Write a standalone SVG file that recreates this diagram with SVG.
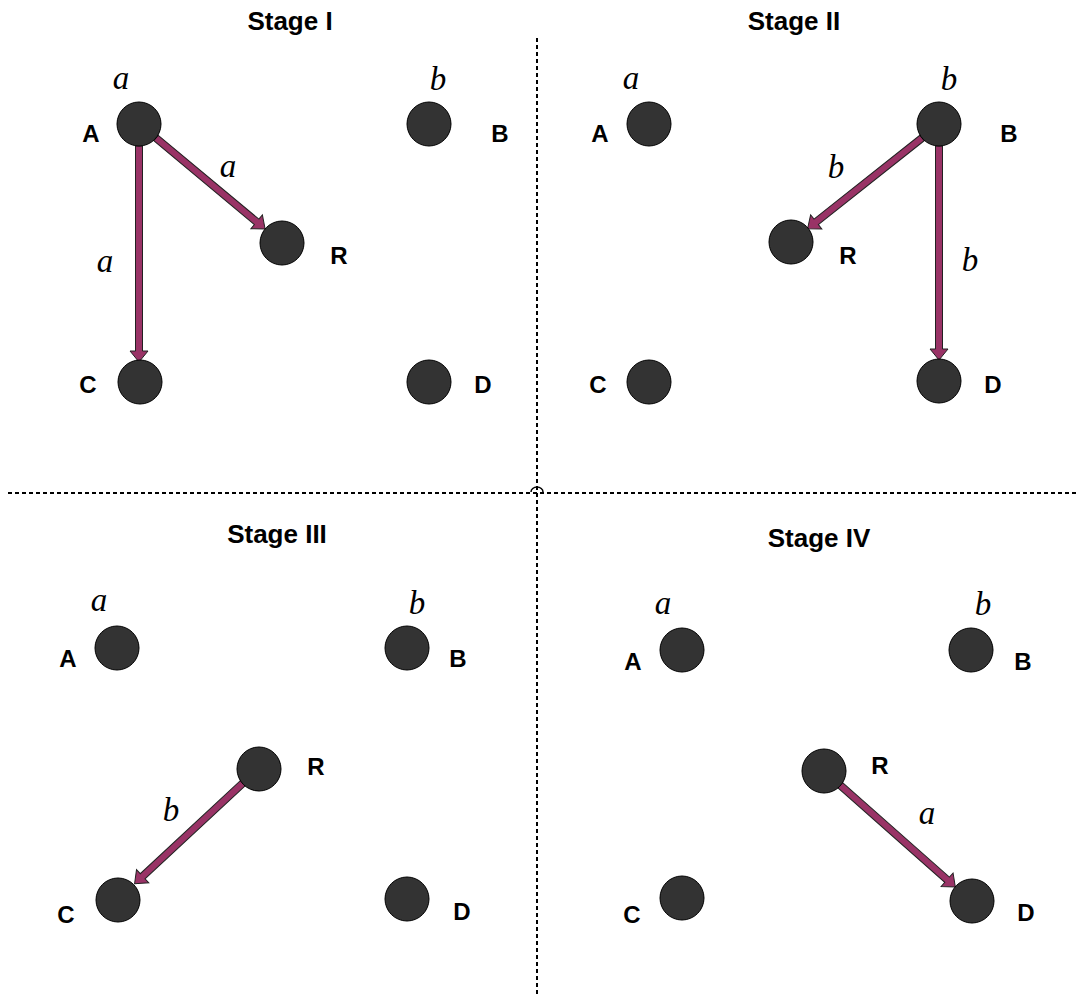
<svg xmlns="http://www.w3.org/2000/svg" width="1076" height="994" viewBox="0 0 1076 994">
<style>
.node{fill:#333333;stroke:#000;stroke-width:1}
.title{font-family:"Liberation Sans",Arial,sans-serif;font-weight:bold;font-size:26px;text-anchor:middle;fill:#000}
.lbl{font-family:"Liberation Sans",Arial,sans-serif;font-weight:bold;font-size:24px;text-anchor:middle;fill:#000}
.it{font-family:"Liberation Serif","Times New Roman",serif;font-style:italic;font-size:33px;text-anchor:middle;fill:#000}
.arr{fill:#993366;stroke:#222;stroke-width:1}
.div{fill:none;stroke:#000;stroke-width:2;stroke-dasharray:4 3}
</style>
<rect width="1076" height="994" fill="#fff"/>
<g id="dividers">
<line class="div" x1="537" y1="38" x2="537" y2="994"/>
<line class="div" x1="8" y1="493" x2="1076" y2="493"/>
<path d="M531,492 A6,5 0 0 1 543,492" fill="none" stroke="#000" stroke-width="1.5"/>
</g>
<g id="titles">
<text class="title" x="290" y="30">Stage I</text>
<text class="title" x="794" y="30">Stage II</text>
<text class="title" x="277" y="543">Stage III</text>
<text class="title" x="819" y="547">Stage IV</text>
</g>
<g id="connectors">
<g transform="translate(139,146) rotate(90)"><path class="arr" d="M0,-3.5 L205,-3.5 L205,-9 L216,0 L205,9 L205,3.5 L0,3.5 Z"/></g>
<g transform="translate(156,138) rotate(39.8)"><path class="arr" d="M0,-3.5 L131,-3.5 L131,-9 L142,0 L131,9 L131,3.5 L0,3.5 Z"/></g>
<g transform="translate(939,146) rotate(90)"><path class="arr" d="M0,-3.5 L203,-3.5 L203,-9 L214,0 L203,9 L203,3.5 L0,3.5 Z"/></g>
<g transform="translate(922,138) rotate(141.6)"><path class="arr" d="M0,-3.5 L135,-3.5 L135,-9 L146,0 L135,9 L135,3.5 L0,3.5 Z"/></g>
<g transform="translate(243,783) rotate(137.1)"><path class="arr" d="M0,-3.5 L137,-3.5 L137,-9 L148,0 L137,9 L137,3.5 L0,3.5 Z"/></g>
<g transform="translate(840,785) rotate(41.5)"><path class="arr" d="M0,-3.5 L143,-3.5 L143,-9 L154,0 L143,9 L143,3.5 L0,3.5 Z"/></g>
</g>
<g id="s1">
<g id="s1-A"><circle class="node" cx="139" cy="124" r="22"/><text class="lbl" x="91" y="142">A</text><text class="it" x="121" y="89">a</text></g>
<g id="s1-B"><circle class="node" cx="429" cy="124" r="22"/><text class="lbl" x="500" y="142">B</text><text class="it" x="438" y="90">b</text></g>
<g id="s1-R"><circle class="node" cx="282" cy="243" r="22"/><text class="lbl" x="339" y="264">R</text></g>
<g id="s1-C"><circle class="node" cx="140" cy="382" r="22"/><text class="lbl" x="88" y="393">C</text></g>
<g id="s1-D"><circle class="node" cx="429" cy="382" r="22"/><text class="lbl" x="483" y="393">D</text></g>
<text class="it" x="228" y="177">a</text>
<text class="it" x="105" y="272">a</text>
</g>
<g id="s2">
<g id="s2-A"><circle class="node" cx="649" cy="124" r="22"/><text class="lbl" x="600" y="142">A</text><text class="it" x="631" y="89">a</text></g>
<g id="s2-B"><circle class="node" cx="939" cy="124" r="22"/><text class="lbl" x="1009" y="142">B</text><text class="it" x="949" y="90">b</text></g>
<g id="s2-R"><circle class="node" cx="791" cy="242" r="22"/><text class="lbl" x="848" y="264">R</text></g>
<g id="s2-C"><circle class="node" cx="649" cy="382" r="22"/><text class="lbl" x="598" y="393">C</text></g>
<g id="s2-D"><circle class="node" cx="939" cy="381" r="22"/><text class="lbl" x="993" y="393">D</text></g>
<text class="it" x="836" y="178">b</text>
<text class="it" x="970" y="271">b</text>
</g>
<g id="s3">
<g id="s3-A"><circle class="node" cx="117" cy="648" r="22"/><text class="lbl" x="68" y="667">A</text><text class="it" x="99" y="611">a</text></g>
<g id="s3-B"><circle class="node" cx="407" cy="648" r="22"/><text class="lbl" x="458" y="667">B</text><text class="it" x="417" y="614">b</text></g>
<g id="s3-R"><circle class="node" cx="259" cy="769" r="22"/><text class="lbl" x="316" y="775">R</text></g>
<g id="s3-C"><circle class="node" cx="118" cy="900" r="22"/><text class="lbl" x="66" y="923">C</text></g>
<g id="s3-D"><circle class="node" cx="407" cy="899" r="22"/><text class="lbl" x="462" y="920">D</text></g>
<text class="it" x="171" y="821">b</text>
</g>
<g id="s4">
<g id="s4-A"><circle class="node" cx="682" cy="650" r="22"/><text class="lbl" x="633" y="670">A</text><text class="it" x="663" y="614">a</text></g>
<g id="s4-B"><circle class="node" cx="971" cy="650" r="22"/><text class="lbl" x="1023" y="670">B</text><text class="it" x="983" y="615">b</text></g>
<g id="s4-R"><circle class="node" cx="824" cy="771" r="22"/><text class="lbl" x="880" y="774">R</text></g>
<g id="s4-C"><circle class="node" cx="682" cy="898" r="22"/><text class="lbl" x="632" y="923">C</text></g>
<g id="s4-D"><circle class="node" cx="972" cy="901" r="22"/><text class="lbl" x="1026" y="921">D</text></g>
<text class="it" x="927" y="824">a</text>
</g>
</svg>
